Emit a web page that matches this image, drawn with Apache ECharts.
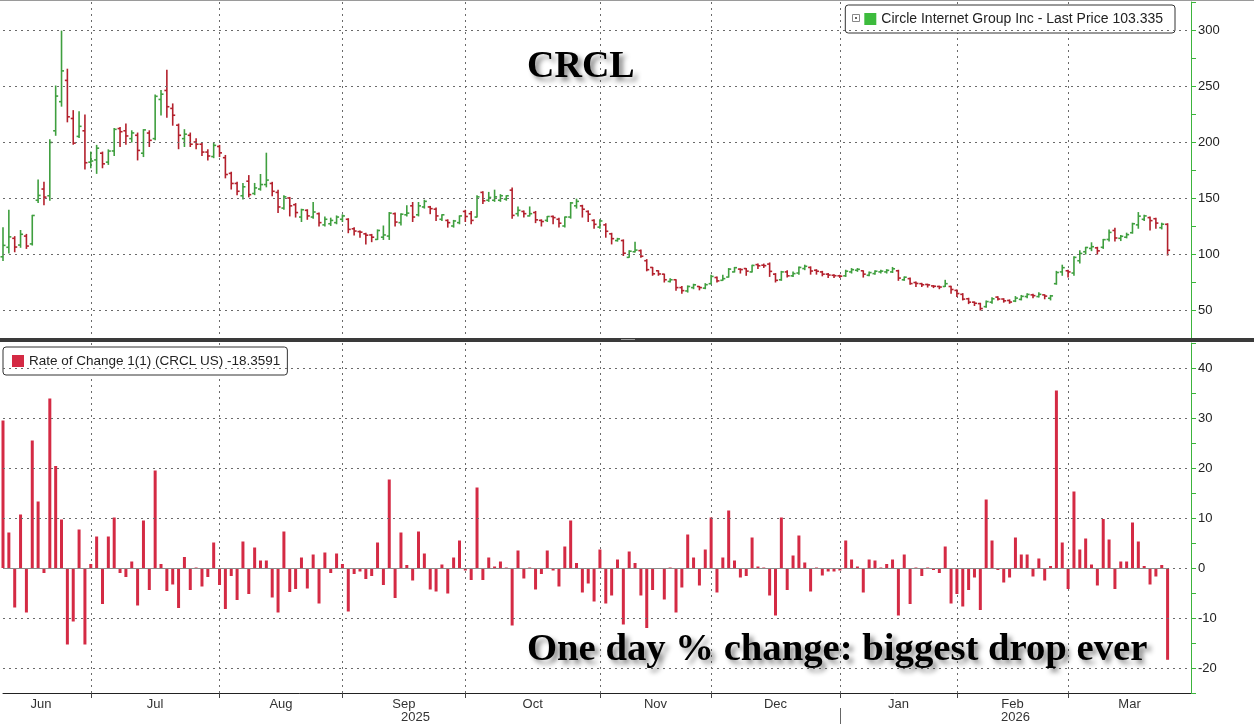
<!DOCTYPE html>
<html><head><meta charset="utf-8">
<script src="https://cdn.jsdelivr.net/npm/echarts@6/dist/echarts.min.js"></script>
<style>html,body{margin:0;padding:0;background:#fff}#c{width:1254px;height:724px}</style>
</head><body><div id="c"></div>
<script>
// ---------------- DATA ----------------
const tradingDays = [
  ['2025-06', [6,9,10,11,12,13,16,17,18,20,23,24,25,26,27,30]],
  ['2025-07', [1,2,3,7,8,9,10,11,14,15,16,17,18,21,22,23,24,25,28,29,30,31]],
  ['2025-08', [1,4,5,6,7,8,11,12,13,14,15,18,19,20,21,22,25,26,27,28,29]],
  ['2025-09', [2,3,4,5,8,9,10,11,12,15,16,17,18,19,22,23,24,25,26,29,30]],
  ['2025-10', [1,2,3,6,7,8,9,10,13,14,15,16,17,20,21,22,23,24,27,28,29,30,31]],
  ['2025-11', [3,4,5,6,7,10,11,12,13,14,17,18,19,20,21,24,25,26,28]],
  ['2025-12', [1,2,3,4,5,8,9,10,11,12,15,16,17,18,19,22,23,24,26,29,30,31]],
  ['2026-01', [2,5,6,7,8,9,12,13,14,15,16,20,21,22,23,26,27,28,29,30]],
  ['2026-02', [2,3,4,5,6,9,10,11,12,13,17,18,19,20,23,24,25,26,27]],
  ['2026-03', [2,3,4,5,6,9,10,11,12,13,16,17,18,19,20,23,24]]
];
const opens = [97.5,106,114,108,116,109,148,158,152,210,236,255,221,205,210,182,
184,190,182,192,212,210,203,206,190,208,203,238,246,230,215,203,206,200,198,191,187,196,
186,172,163,152,165,154,158,162,163,155,141,150,144,133,139,133,136,126,127,128,131,
131,122.5,120,118,117,113,115,116,136,128,135,143,135,142,142,140,131,130,125,128,138,136,
133,155,148,148,148,149,157,136,138,134,137,130,130,133.5,131,125,133,143,143,138,130,124,
126,118,112,112,97,102,103,94,88,85,82,75.5,77,70,67,70,71,69.5,73.5,
79,76.5,79.4,84,86.5,87,84,90.5,90,91,82,77,84,80.5,83,87,88,85.5,84,82,81,80.5,
80.5,84,85.5,85,81,82.5,84,84,84,85,77,78,74.5,73.5,72.8,71.5,71,71,71,67.5,
64,60,57,55.7,53,57,61.5,59.8,58.5,58,59.5,62,63.5,62,63.5,60.5,73.5,84,85,
83,94,102,105,105.5,106,113,121,114,115,119,126,131,132.5,131.5,123.5,126.5];
const highs = [123.5,139,115.5,121,117.5,134.5,166,164,202,250,299,265,228,227,224,191,
197,191,193,212,213,216,210,208,211,210,242,246,264,234,216,211,208,203,199,193,199,197,
188,173,164,163,170,163,171,190,164,157,152,150.5,145,140,139.5,146,136.5,133,132,134,135,
131.5,123.5,120.5,118.5,117.5,121.5,125,137,136.5,136,143,146,146,148,142.5,141,135,130.5,130,134,139,138,
152,155.5,155,157,153,152,159,142,138.5,142,138,130.5,133.5,134,132,133,146,149,143.5,138.5,130.5,130.5,
127,118.5,114,112.6,103,110.5,103.5,95,88,85,82,78,77,71,71.5,73,71,73.5,81,
79.4,81,87,88,86.8,87,90,91,91,92,82.5,84.5,85,84,88.5,90,88.5,86,84.5,82.5,81.5,81,
85.5,87,87,85,84,85,85.5,86,88,85.5,79.5,78.5,75,73.8,73,71.8,71.3,76.5,71.2,67.8,
64.6,60.5,57.2,56,58,61,61.8,60,59,62,63,64.6,64,65.5,63.5,63,84.5,90,85.5,
97.5,103,106,110,106,113,121.5,123,116.5,118.6,127.5,137,134.5,133,132,127.5,127];
const lows = [94.3,101,102,106,105,108,146,144,148,206,232,218,198,204,176,177,
172,177,180,188,196,198,200,184,187,196,202,224,222,215,194,196,196,194,188,184,186,187,
168,158,153,149,151,153,157,160,152,137,140,134,133,129,131,132,125,125,125.5,127,129,
119,117,115,109,111,113,113,113,125,126,134,129,134,141,136,130,130,124,124,127,129,127,
133,145,147,147,147,148,132,134,133,134,128,125,129,127,124,124,132,141,133,129,123,123,
115,109,111.5,98.7,97,101.7,97,85,81,81,75,75,67.6,65,66,69,68,69,73.5,
75,76.5,79.4,84,83,81,84,87,88,80,75,76.5,79.5,80,82,86,82,82,80.5,79,79,79,
80,83,84.5,79.4,80.5,82,83,83,83.5,76.5,76.5,73,71,71,70.5,70,69,71,65,62,
59,55.7,54,50,52.5,56,59,57,56,57.5,59,61,61,61.6,60,59,73,81,79.4,
81,92,100,103,100,105,111.5,111.5,112,114.4,118.6,123,130,121.5,123,122.4,99];
const closes = [107.7,115.3,106.2,117.6,107.1,134.4,152.3,150.8,199.6,241,263.5,222.5,199,214,181.5,183,
194.5,180.5,191.9,211.3,209.2,205.4,208.1,192.5,210.8,201.5,240.8,242.7,231.5,223.9,206,207,198,198,191,187.5,197,190.3,
171,163,156,160,153,159,162,166,156,142,151,143,137,139.5,134,137.5,128,131,130,133,134,
122,120.5,119.5,116.8,115,121,117,136.5,128.5,135.5,136.5,133,143,147,140.5,134,135,128,129.5,134,133.5,130,
151,147.5,150.5,151,152,152,134.5,139,136,136,130.5,129,133.5,132.5,127.5,133,145.6,147,140,135.5,126.5,129.5,
120.3,113.7,113.5,100.7,102.5,103.5,98,86,82.3,82.2,77,77,70,67.3,71,72.5,70,72.6,80,
76,78,86.5,87.8,86.1,84.7,89.8,89.5,89.6,84.5,76.5,84,80.5,82.5,88,89,84.8,84.6,82,81.2,80.6,80.2,
84.6,86,86.3,82,83.4,84.6,84.7,85.4,86.8,78.5,79.3,73.6,73.7,72.5,72.4,71.2,70.5,73.5,68.3,64.7,
59.7,57,56,51.3,57.5,60,59.8,58.2,57.1,60.6,62.2,63.9,62.8,64,62.4,62.6,83.5,87.8,84,
97,100.5,105.8,106.5,102.8,112.8,119.3,114.3,115.8,117.3,127,133.8,134,129.8,127.6,126.6,103.335];
const roc = [29.5,7.1,-7.9,10.7,-8.9,25.5,13.3,-1.0,33.9,20.4,9.7,-15.3,-10.7,7.7,-15.3,0.8,
6.3,-7.2,6.3,10.1,-1.0,-1.8,1.3,-7.5,9.5,-4.4,19.5,0.8,-4.6,-3.3,-8.0,2.2,-4.4,0.1,-3.7,-1.8,5.1,-3.4,
-8.2,-1.6,-6.4,5.3,-5.2,4.1,1.5,1.5,-5.9,-8.9,7.3,-4.8,-4.2,2.1,-4.1,2.7,-7.1,3.1,-1.0,2.9,0.8,
-8.7,-1.2,-0.7,-2.2,-1.6,5.1,-3.4,17.7,-6.0,7.1,0.6,-2.5,7.3,2.9,-4.3,-4.7,0.7,-5.1,2.1,5.5,-0.5,
-2.4,16.1,-2.4,2.1,0.3,1.3,0.1,-11.5,3.5,-2.1,0.1,-4.3,-1.2,3.5,-0.5,-3.7,4.3,9.5,1.0,-4.9,-3.1,-6.7,3.7,
-7.1,-5.5,1.7,-11.3,3.3,1.0,-5.5,-12.0,-4.4,-0.1,-6.3,0.1,-8.9,-3.9,6.7,2.1,-3.5,3.7,10.1,
-4.9,2.1,11.5,1.5,-1.9,-1.6,6.1,0.3,0.1,-5.5,-9.5,10.1,-4.4,2.5,6.5,1.1,-4.7,0.1,-1.5,-0.7,-0.7,-0.5,
5.5,1.7,0.3,-4.9,1.7,1.5,0.1,0.8,1.7,-9.5,2.7,-7.2,0.1,-1.6,0.1,-0.4,-1.0,4.3,-7.1,-5.2,
-7.7,-4.4,-1.9,-8.4,13.7,5.5,-0.4,-2.9,-1.9,6.1,2.7,2.7,-1.7,1.9,-2.5,0.4,35.5,5.1,-4.2,
15.3,3.7,5.9,0.7,-3.5,9.8,5.7,-4.2,1.3,1.3,9.1,5.3,0.4,-3.3,-1.7,0.6,-18.3591];
const priceTicks = [50,100,150,200,250,300];
const rocTicks = [-20,-10,0,10,20,30,40];
const monthNames = ['Jan','Feb','Mar','Apr','May','Jun','Jul','Aug','Sep','Oct','Nov','Dec'];
const priceName = 'Circle Internet Group Inc - Last Price';
const rocName = 'Rate of Change 1(1) (CRCL US)';
const titleText = 'CRCL';
const noteText = 'One day % change: biggest drop ever';

// ---------------- BUILD ----------------
const dates = [], monthEnds = [], monthKeys = [];
tradingDays.forEach(([m, days]) => {
  days.forEach(d => dates.push(m + '-' + String(d).padStart(2, '0')));
  monthEnds.push(dates.length - 1); monthKeys.push(m);
});
const PAD = 4;
const cats = dates.concat(Array.from({length: PAD}, (_, k) => 'pad' + k));
const xMax = cats.length - 1;
const gridSet = new Set(monthEnds.slice(0, -1));
const monthLabelAt = {};
monthEnds.forEach((e, k) => {
  const s = k === 0 ? -2 : monthEnds[k - 1];
  const en = k === monthEnds.length - 1 ? xMax : e;
  monthLabelAt[Math.round(s + en) / 2] = monthNames[+monthKeys[k].slice(5) - 1];
});
let yearBreak = -1;
dates.forEach((d, i) => { if (i > 0 && d.slice(0, 4) !== dates[i - 1].slice(0, 4)) yearBreak = i - 1; });
const yearLabelAt = {};
yearLabelAt[Math.round(-2 + yearBreak) / 2] = dates[0].slice(0, 4);
yearLabelAt[Math.round(yearBreak + xMax) / 2] = dates[dates.length - 1].slice(0, 4);

const ohlc = dates.map((d, i) => [i, opens[i], highs[i], lows[i], closes[i]]);
const lastClose = closes[closes.length - 1];
const lastRoc = roc[roc.length - 1];
const UP = '#3f9f3f', DOWN = '#b3202c', GREEN = '#3cb43c', RED = '#d42a44';
const FONT = 'Liberation Sans';
const dotted = {type: [2, 4], color: '#6a6a6a', width: 1};
const shadowText = {fontFamily: 'Liberation Serif', fontWeight: 'bold', color: '#000',
  textShadowColor: 'rgba(0,0,0,0.45)', textShadowBlur: 5, textShadowOffsetX: 4, textShadowOffsetY: 4};

const chart = echarts.init(document.getElementById('c'), null, {renderer: 'canvas'});
const GL = 3, GR = 63;

chart.setOption({
  animation: false,
  backgroundColor: '#fff',
  title: [
    {text: titleText, left: 527, top: 48, padding: 0, textStyle: Object.assign({fontSize: 38}, shadowText)},
    {text: noteText, left: 527, top: 631, padding: 0, textStyle: Object.assign({fontSize: 38.7}, shadowText)}
  ],
  legend: [
    {data: [priceName + ' ' + lastClose], right: 79, top: 5, selectedMode: false, icon: 'rect', itemWidth: 12, itemHeight: 12,
      padding: [7, 12, 7, 19], borderColor: '#333', borderWidth: 1, borderRadius: 3, backgroundColor: '#fff',
      textStyle: {fontFamily: FONT, fontSize: 14, color: '#222'}},
    {data: [rocName + ' ' + lastRoc], left: 3, top: 347, selectedMode: false, icon: 'rect', itemWidth: 12, itemHeight: 12,
      padding: [7, 7, 7, 9], borderColor: '#333', borderWidth: 1, borderRadius: 3, backgroundColor: '#fff',
      textStyle: {fontFamily: FONT, fontSize: 13.5, color: '#222'}}
  ],
  grid: [
    {left: GL, right: GR, top: 2, height: 336},
    {left: GL, right: GR, top: 343, height: 350}
  ],
  xAxis: [
    {type: 'category', gridIndex: 0, data: cats, boundaryGap: false,
      axisLine: {show: false, onZero: false}, axisTick: {show: false}, axisLabel: {show: false},
      splitLine: {show: true, interval: (i) => gridSet.has(i), lineStyle: dotted}},
    {type: 'category', gridIndex: 1, data: cats, boundaryGap: false,
      axisLine: {show: true, onZero: false, lineStyle: {color: '#222', width: 1}},
      axisTick: {show: true, interval: (i) => gridSet.has(i), length: 5, lineStyle: {color: '#444'}},
      axisLabel: {show: false},
      splitLine: {show: true, interval: (i) => gridSet.has(i), lineStyle: dotted}},
    {type: 'value', gridIndex: 1, position: 'bottom', min: 0, max: xMax, interval: 0.5,
      axisLine: {show: false, onZero: false}, axisTick: {show: false}, splitLine: {show: false},
      axisLabel: {show: true, margin: 5, color: '#333', fontFamily: FONT, fontSize: 13,
        formatter: (v) => monthLabelAt[v] || ''}},
    {type: 'value', gridIndex: 1, position: 'bottom', offset: 15, min: 0, max: xMax, interval: 0.5,
      axisLine: {show: false, onZero: false}, axisTick: {show: false}, splitLine: {show: false},
      axisLabel: {show: true, margin: 3, color: '#333', fontFamily: FONT, fontSize: 13,
        formatter: (v) => yearLabelAt[v] || ''}},
    {type: 'category', gridIndex: 1, position: 'bottom', offset: 15, data: cats, boundaryGap: false,
      axisLine: {show: false, onZero: false}, axisLabel: {show: false}, splitLine: {show: false},
      axisTick: {show: true, interval: (i) => i === yearBreak, length: 16, lineStyle: {color: '#666'}}}
  ],
  yAxis: [
    {type: 'value', gridIndex: 0, position: 'right', min: 25, max: 325, interval: 25,
      axisLine: {show: true, onZero: false, lineStyle: {color: GREEN, width: 1}},
      axisTick: {show: true, length: 5, lineStyle: {color: GREEN}},
      splitLine: {show: false},
      axisLabel: {margin: 7, color: '#222', fontFamily: FONT, fontSize: 13,
        formatter: (v) => (v % 50 === 0 && v >= 50 && v <= 300) ? String(v) : ''}},
    {type: 'value', gridIndex: 1, position: 'right', min: -25, max: 45, interval: 5,
      axisLine: {show: true, onZero: false, lineStyle: {color: GREEN, width: 1}},
      axisTick: {show: true, length: 5, lineStyle: {color: GREEN}},
      splitLine: {show: false},
      axisLabel: {margin: 7, color: '#222', fontFamily: FONT, fontSize: 13,
        formatter: (v) => (v % 10 === 0 && v >= -20 && v <= 40) ? String(v) : ''}}
  ],
  series: [
    {
      type: 'custom', name: priceName + ' ' + lastClose, xAxisIndex: 0, yAxisIndex: 0,
      data: ohlc, encode: {x: 0, y: [1, 2, 3, 4]},
      itemStyle: {color: '#3dbb3d'},
      renderItem: (params, api) => {
        const idx = api.value(0);
        const o = api.value(1), h = api.value(2), l = api.value(3), c = api.value(4);
        const pO = api.coord([idx, o]), pH = api.coord([idx, h]), pL = api.coord([idx, l]), pC = api.coord([idx, c]);
        const x = pO[0];
        const st = {stroke: c >= o ? UP : DOWN, lineWidth: 1.6};
        return {type: 'group', children: [
          {type: 'line', shape: {x1: x, y1: pH[1] - 0.5, x2: x, y2: pL[1] + 0.5}, style: st},
          {type: 'line', shape: {x1: x - 2.5, y1: pO[1], x2: x, y2: pO[1]}, style: st},
          {type: 'line', shape: {x1: x, y1: pC[1], x2: x + 2.5, y2: pC[1]}, style: st}
        ]};
      },
      markLine: {
        silent: true, symbol: ['none', 'none'], animation: false,
        data: priceTicks.map(v => ({yAxis: v, lineStyle: dotted, label: {show: false}})).concat([
          {yAxis: lastClose, lineStyle: {opacity: 0},
            label: {show: true, position: 'end', distance: 2, formatter: String(lastClose),
              backgroundColor: '#3dbb3d', color: '#111', padding: [3, 5, 2, 8], fontFamily: FONT, fontSize: 13}}
        ])
      }
    },
    {
      type: 'bar', name: rocName + ' ' + lastRoc, xAxisIndex: 1, yAxisIndex: 1,
      data: roc, barWidth: 3, itemStyle: {color: RED},
      markLine: {
        silent: true, symbol: ['none', 'none'], animation: false,
        data: rocTicks.map(v => ({yAxis: v, lineStyle: dotted, label: {show: false}})).concat([
          [{coord: [dates[0], 0], lineStyle: {type: 'solid', color: '#8a8a8a', width: 1}, label: {show: false}},
           {coord: [dates[dates.length - 1], 0]}],
          {yAxis: lastRoc, lineStyle: {opacity: 0},
            label: {show: true, position: 'end', distance: 2, formatter: String(lastRoc),
              backgroundColor: '#e8283c', color: '#fff', padding: [3, 3, 2, 6], fontFamily: FONT, fontSize: 13}}
        ])
      }
    }
  ],
  graphic: [
    {type: 'rect', shape: {x: 0, y: 0, width: 1254, height: 1}, style: {fill: '#9a9a9a'}, z: 100},
    {type: 'rect', shape: {x: 0, y: 338, width: 1254, height: 4}, style: {fill: '#3a3a3a'}, z: 100},
    {type: 'rect', shape: {x: 621, y: 339, width: 14, height: 1}, style: {fill: '#9a9a9a'}, z: 101},
    {type: 'rect', shape: {x: 852.5, y: 14.5, width: 7, height: 7}, style: {fill: '#fff', stroke: '#888', lineWidth: 1}, z: 100},
    {type: 'rect', shape: {x: 855, y: 17, width: 2, height: 2}, style: {fill: '#666'}, z: 101}
  ]
});
</script>
</body></html>
